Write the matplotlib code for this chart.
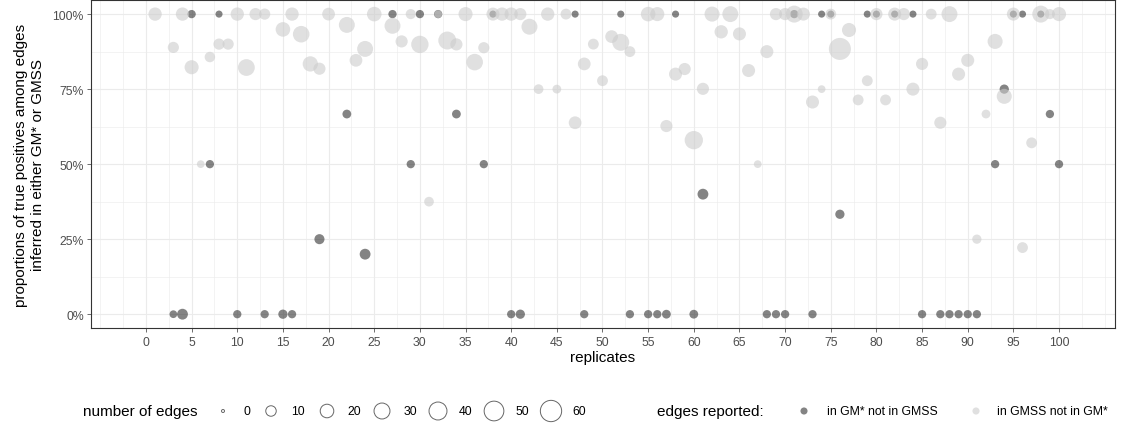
"""Proportion of true positives per replicate, GM* vs GMSS."""

import matplotlib.pyplot as plt
import numpy as np
from matplotlib.ticker import FixedLocator, PercentFormatter

plt.rcParams['font.family'] = ['Liberation Sans', 'DejaVu Sans']

# edges in GMSS but not in GM* (light points)
light_rep = [1, 3, 4, 5, 6, 7, 8, 9, 10, 11, 12, 13, 15, 16, 17, 18, 19, 20,
             22, 23, 24, 25, 27, 28, 29, 30, 31, 32, 33, 34, 35, 36, 37, 38,
             39, 40, 41, 42, 43, 44, 45, 46, 47, 48, 49, 50, 51, 52, 53, 55,
             56, 57, 58, 59, 60, 61, 62, 63, 64, 65, 66, 67, 68, 69, 70, 71,
             72, 73, 74, 75, 76, 77, 78, 79, 80, 81, 82, 83, 84, 85, 86, 87,
             88, 89, 90, 91, 92, 93, 94, 95, 96, 97, 98, 99, 100]
light_prop = [1.0, 0.889, 1.0, 0.823, 0.5, 0.857, 0.9, 0.9, 1.0, 0.822, 1.0,
              1.0, 0.949, 1.0, 0.933, 0.834, 0.818, 1.0, 0.964, 0.846, 0.884,
              1.0, 0.961, 0.909, 1.0, 0.899, 0.375, 1.0, 0.912, 0.899, 1.0,
              0.84, 0.888, 1.0, 1.0, 1.0, 1.0, 0.958, 0.75, 1.0, 0.75, 1.0,
              0.638, 0.834, 0.9, 0.778, 0.925, 0.906, 0.875, 1.0, 1.0, 0.627,
              0.8, 0.817, 0.58, 0.751, 1.0, 0.941, 1.0, 0.934, 0.812, 0.5,
              0.875, 1.0, 1.0, 1.0, 1.0, 0.707, 0.75, 1.0, 0.884, 0.947, 0.714,
              0.778, 1.0, 0.714, 1.0, 1.0, 0.75, 0.834, 1.0, 0.638, 1.0, 0.8,
              0.846, 0.25, 0.667, 0.909, 0.726, 1.0, 0.222, 0.571, 1.0, 1.0,
              1.0]
light_edges = [19, 12, 19, 22, 4, 10, 12, 12, 19, 34, 15, 12, 24, 19, 33, 27,
               15, 17, 30, 17, 30, 24, 30, 15, 9, 37, 8, 4, 40, 15, 22, 33,
               12, 18, 19, 19, 15, 30, 8, 19, 6, 11, 17, 17, 11, 11, 17, 35,
               11, 24, 22, 15, 18, 15, 42, 15, 26, 19, 30, 18, 18, 4, 18, 15,
               15, 35, 18, 18, 4, 11, 65, 22, 11, 11, 15, 11, 18, 15, 18, 15,
               11, 15, 30, 18, 18, 7, 6, 26, 26, 18, 11, 11, 35, 9, 22]

# edges in GM* but not in GMSS (dark points)
dark_rep = [3, 4, 5, 7, 8, 10, 13, 15, 16, 19, 22, 24, 27, 29, 30, 32, 34,
            37, 38, 40, 41, 47, 48, 52, 53, 55, 56, 57, 58, 60, 61, 68, 69,
            70, 71, 73, 74, 75, 76, 79, 80, 82, 84, 85, 87, 88, 89, 90, 91,
            93, 94, 95, 96, 98, 99, 100]
dark_prop = [0.0, 0.0, 1.0, 0.5, 1.0, 0.0, 0.0, 0.0, 0.0, 0.25, 0.667, 0.2,
             1.0, 0.5, 1.0, 1.0, 0.667, 0.5, 1.0, 0.0, 0.0, 1.0, 0.0, 1.0,
             0.0, 0.0, 0.0, 0.0, 1.0, 0.0, 0.4, 0.0, 0.0, 0.0, 1.0, 0.0, 1.0,
             1.0, 0.333, 1.0, 1.0, 1.0, 1.0, 0.0, 0.0, 0.0, 0.0, 0.0, 0.0,
             0.5, 0.75, 1.0, 1.0, 1.0, 0.667, 0.5]
dark_edges = [4, 11, 5, 5, 3, 5, 5, 7, 5, 9, 6, 11, 5, 5, 5, 5, 6, 5, 3, 5, 7,
              3, 5, 3, 5, 5, 5, 6, 3, 6, 11, 5, 5, 5, 5, 5, 3, 3, 7, 3, 3, 3,
              3, 5, 5, 5, 5, 5, 5, 5, 7, 3, 3, 3, 5, 5]

size_breaks = [0, 10, 20, 30, 40, 50, 60]
x_breaks = list(range(0, 101, 5))
y_breaks = [0, 0.25, 0.5, 0.75, 1.0]

DARK = '#333333'
LIGHT = '#CCCCCC'
ALPHA = 0.6


def point_size(n):
    # area-style size scale: diameter in px from 3 (n=0) to ~21 (n=60)
    d_px = 3 + 18.3 * np.sqrt(np.asarray(n, dtype=float) / 60.0)
    return (d_px * 0.72) ** 2


W, H = 1128, 427
fig = plt.figure(figsize=(W / 100, H / 100), dpi=100)
ax = fig.add_axes([91 / W, 1 - 329.3 / H, (1115 - 91) / W, 328.3 / H])

ax.scatter(dark_rep, dark_prop, s=point_size(dark_edges), color=DARK,
           alpha=ALPHA, linewidths=0, zorder=3)
ax.scatter(light_rep, light_prop, s=point_size(light_edges), color=LIGHT,
           alpha=ALPHA, linewidths=0, zorder=4)

ax.set_xlim(-6.02, 106.13)
ax.set_ylim(-0.047, 1.047)
ax.set_xticks(x_breaks)
ax.set_yticks(y_breaks)
ax.xaxis.set_minor_locator(FixedLocator(np.arange(-5, 106, 2.5)))
ax.yaxis.set_minor_locator(FixedLocator([0.125, 0.375, 0.625, 0.875]))
ax.yaxis.set_major_formatter(PercentFormatter(1.0, decimals=0))
ax.grid(True, which='major', color='#EBEBEB', linewidth=0.8, zorder=0)
ax.grid(True, which='minor', color='#EBEBEB', linewidth=0.4, zorder=0)
ax.set_axisbelow(True)
ax.tick_params(which='major', length=2.7, width=0.5, color='#333333',
               labelsize=8.8, labelcolor='#4D4D4D', pad=2.5)
ax.tick_params(which='minor', length=0)
for sp in ax.spines.values():
    sp.set_color('#333333')
    sp.set_linewidth(0.8)

ax.set_xlabel('replicates', fontsize=11, labelpad=2)
ax.set_ylabel('proportions of true positives among edges\n'
              'inferred in either GM* or GMSS', fontsize=11, labelpad=5,
              linespacing=1.3)

# legends drawn in pixel space below the panel
lg = fig.add_axes([0, 0, 1, 1])
lg.set_xlim(0, W)
lg.set_ylim(H, 0)
lg.axis('off')
ly = 412
lg.text(83, ly, 'number of edges', fontsize=11, va='center', ha='left')
circle_x = [223, 271, 327, 382, 438, 494, 551]
label_x = [247, 298, 354, 410, 466, 522, 579]
lg.scatter(circle_x, [ly] * len(circle_x), s=point_size(size_breaks),
           facecolor='white', edgecolor='#666666', linewidths=0.7)
for lx, b in zip(label_x, size_breaks):
    lg.text(lx, ly, str(b), fontsize=8.8, va='center', ha='center')

lg.text(657, ly, 'edges reported:', fontsize=11, va='center', ha='left')
lg.scatter([804, 976], [ly, ly], s=point_size([3, 3]),
           color=[DARK, LIGHT], alpha=ALPHA, linewidths=0)
lg.text(827, ly, 'in GM* not in GMSS', fontsize=8.8, va='center', ha='left')
lg.text(997, ly, 'in GMSS not in GM*', fontsize=8.8, va='center', ha='left')

fig.savefig('out.png', dpi=100)
plt.close(fig)
